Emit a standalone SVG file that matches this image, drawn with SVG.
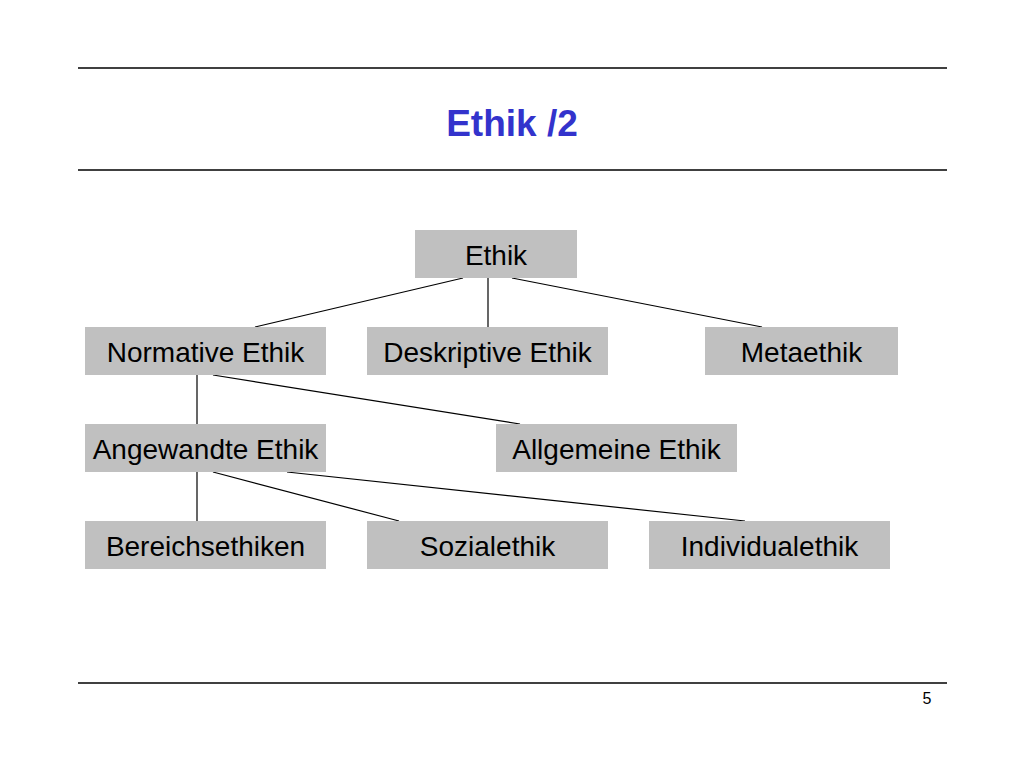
<svg xmlns="http://www.w3.org/2000/svg" width="1024" height="768" viewBox="0 0 1024 768">
<style>
.rule{stroke:#000;stroke-width:1.3}
.box{fill:#c0c0c0}
.lbl{font-family:"Liberation Sans",Arial,sans-serif;font-size:28px;fill:#000;text-anchor:middle}
.con line{stroke:#000;stroke-width:1.2}
</style>
<rect width="1024" height="768" fill="#fff"/>
<line class="rule" x1="78" y1="68" x2="947" y2="68"/>
<line class="rule" x1="78" y1="170" x2="947" y2="170"/>
<line class="rule" x1="78" y1="683" x2="947" y2="683"/>
<text x="512" y="136" font-family="Liberation Sans, Arial, sans-serif" font-size="37" font-weight="bold" fill="#3333cc" text-anchor="middle">Ethik /2</text>
<text x="927" y="704" font-family="Liberation Sans, Arial, sans-serif" font-size="16" fill="#000" text-anchor="middle">5</text>
<g id="connectors" class="con">
<line x1="463" y1="278" x2="255" y2="327"/>
<line x1="488" y1="278" x2="488" y2="327"/>
<line x1="512" y1="278" x2="762" y2="327"/>
<line x1="197" y1="375" x2="197" y2="424"/>
<line x1="213" y1="375" x2="520" y2="424"/>
<line x1="197" y1="472" x2="197" y2="521"/>
<line x1="213" y1="472" x2="399" y2="521"/>
<line x1="287" y1="472" x2="745" y2="521"/>
</g>
<g id="ethik"><rect class="box" x="415" y="230" width="162" height="48"/><text class="lbl" x="496" y="265">Ethik</text></g>
<g id="normative"><rect class="box" x="85" y="327" width="241" height="48"/><text class="lbl" x="205.5" y="362">Normative Ethik</text></g>
<g id="deskriptive"><rect class="box" x="367" y="327" width="241" height="48"/><text class="lbl" x="487.5" y="362">Deskriptive Ethik</text></g>
<g id="metaethik"><rect class="box" x="705" y="327" width="193" height="48"/><text class="lbl" x="801.5" y="362">Metaethik</text></g>
<g id="angewandte"><rect class="box" x="85" y="424" width="241" height="48"/><text class="lbl" x="205.5" y="459">Angewandte Ethik</text></g>
<g id="allgemeine"><rect class="box" x="496" y="424" width="241" height="48"/><text class="lbl" x="616.5" y="459">Allgemeine Ethik</text></g>
<g id="bereichsethiken"><rect class="box" x="85" y="521" width="241" height="48"/><text class="lbl" x="205.5" y="556">Bereichsethiken</text></g>
<g id="sozialethik"><rect class="box" x="367" y="521" width="241" height="48"/><text class="lbl" x="487.5" y="556">Sozialethik</text></g>
<g id="individualethik"><rect class="box" x="649" y="521" width="241" height="48"/><text class="lbl" x="769.5" y="556">Individualethik</text></g>
</svg>
